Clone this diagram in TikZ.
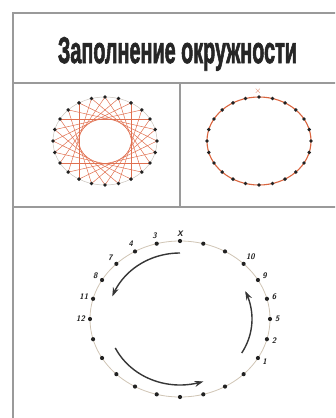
\documentclass[tikz,border=0pt]{standalone}
\usepackage{fontspec}
\usepackage{graphicx}
\usepackage{xcolor}
\usepackage{tikz}
\usetikzlibrary{arrows.meta}
\newfontfamily\titlefont{Liberation Sans}[BoldFeatures={FakeBold=2.5}]
\definecolor{frameGray}{HTML}{9A9A9A}
\definecolor{titleInk}{HTML}{262626}
\definecolor{threadRed}{HTML}{E07050}
\definecolor{rimRed}{HTML}{D9653F}
\definecolor{rimTan}{HTML}{CFC4B4}
\definecolor{rimGray}{HTML}{C9C2BA}
\definecolor{pinInk}{HTML}{222222}
\definecolor{arrowInk}{HTML}{363636}
\tikzset{
  panelline/.style={draw=frameGray, line width=1.1pt},
  pindot/.style={circle, fill=pinInk, inner sep=0pt, minimum size=4.2pt},
  threadline/.style={draw=threadRed, line width=0.5pt},
  pinlabel/.style={font=\sffamily\bfseries\itshape\footnotesize, text=pinInk, inner sep=1pt},
  turnarrow/.style={-{Stealth[length=9pt, width=6pt]}, line width=1.4pt, arrowInk},
}

\begin{document}
\begin{tikzpicture}[x=1pt, y=-1pt]
  \useasboundingbox (0,0) rectangle (335,418);
  \clip (0,0) rectangle (335,418);
  % frame
  \draw[panelline] (13,420) -- (13,13) -- (340,13);
  \draw[panelline] (13,83) -- (340,83);
  \draw[panelline] (13,207) -- (340,207);
  \draw[panelline] (180,83) -- (180,207);
  \node[text=titleInk, anchor=base, inner sep=0pt] (title) at (177.5,63)
    {\resizebox{239pt}{26pt}{\titlefont\bfseries Заполнение окружности}};

  % left panel: threads
  \draw[rimGray, line width=0.5pt] (105,141) ellipse [x radius=52, y radius=44];
  \foreach \k in {0,...,23}
    \coordinate (a\k) at ({105+52*cos(90-15*\k)},{141-44*sin(90-15*\k)});
  \foreach \k in {0,...,23} {
    \pgfmathtruncatemacro\m{mod(\k+8,24)}
    \draw[threadline] (a\k) -- (a\m);
  }
  \foreach \k in {0,...,23}
    \node[pindot, minimum size=3.8pt] (ad\k) at (a\k) {};

  % right panel: rim
  \draw[rimRed, line width=1.1pt] (259,141) ellipse [x radius=52, y radius=44];
  \foreach \k in {0,...,23}
    \node[pindot, minimum size=3.8pt] (b\k) at ({259+52*cos(90-15*\k)},{141-44*sin(90-15*\k)}) {};
  \node[text=rimRed, inner sep=0pt, font=\small] (start) at (258,91) {$\times$};

  % bottom panel: numbering
  \draw[rimTan, line width=0.8pt] (180,319) ellipse [x radius=90, y radius=78];
  \foreach \k in {0,...,23}
    \node[pindot] (c\k) at ({180+90*cos(90-15*\k)},{319-78*sin(90-15*\k)}) {};
  \foreach \k/\lab in {0/X,3/10,4/9,5/6,6/5,7/2,8/1,23/3,22/4,21/7,20/8,19/11,18/12} {
    \pgfmathtruncatemacro\ang{mod(90-15*\k+360,360)}
    \pgfmathtruncatemacro\opp{mod(270-15*\k+360,360)}
    \node[pinlabel, anchor=\opp] (l\k) at ([shift={(\ang:1.5pt)}]c\k.\ang) {\lab};
  }
  \draw[turnarrow] plot[domain=90:160, samples=40] ({180+72*cos(\x)},{319-66*sin(\x)});
  \draw[turnarrow] plot[domain=206:289, samples=40] ({180+72*cos(\x)},{319-66*sin(\x)});
  \draw[turnarrow] plot[domain=-31:25, samples=40] ({180+72*cos(\x)},{319-66*sin(\x)});
\end{tikzpicture}
\end{document}
